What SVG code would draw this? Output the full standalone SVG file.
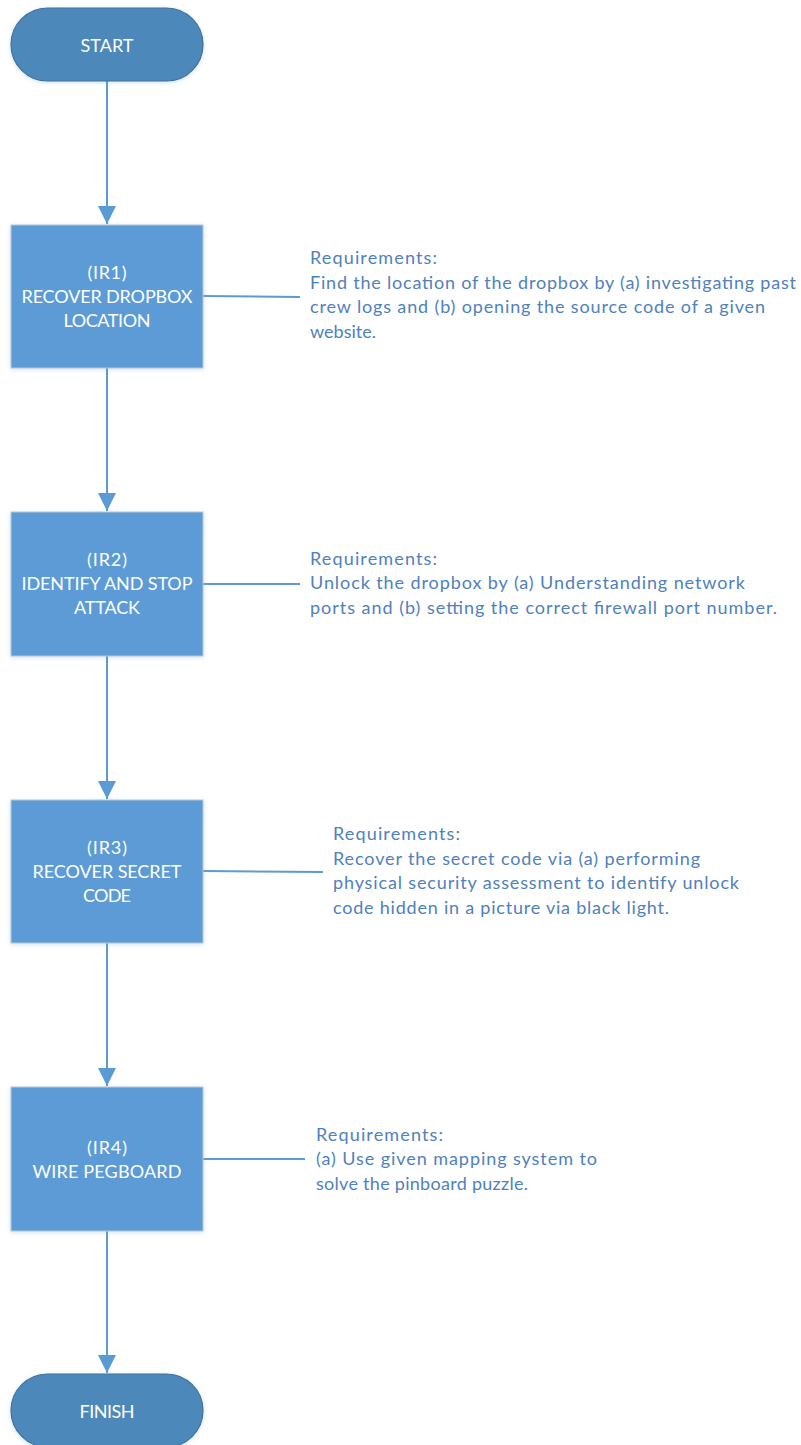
<svg xmlns="http://www.w3.org/2000/svg" width="801" height="1445" viewBox="0 0 801 1445">
  <style>
    .pill { fill: #4E88BB; stroke: #41719C; stroke-width: 1.2; }
    .box { fill: #5B9BD5; stroke: #BCC8D4; stroke-width: 1; }
    .lbl { font-family: Lato, "Liberation Sans", sans-serif; font-size: 18px; fill: #FFFFFF; text-anchor: middle; }
    .req { font-family: Lato, "Liberation Sans", sans-serif; font-size: 18px; fill: #4F81BD; }
    .flow { stroke: #5B9BD5; stroke-width: 2; fill: none; }
  </style>
  <defs>
    <marker id="arrow" markerUnits="userSpaceOnUse" markerWidth="18" markerHeight="18" refX="18" refY="9" orient="auto" viewBox="0 0 18 18">
      <path d="M0,0 L18,9 L0,18 Z" fill="#5B9BD5"/>
    </marker>
    <filter id="glow" x="-20%" y="-20%" width="140%" height="140%">
      <feDropShadow dx="0" dy="1" stdDeviation="2" flood-color="#5B9BD5" flood-opacity="0.3"/>
    </filter>
  </defs>
  <rect width="801" height="1445" fill="#FFFFFF"/>

  <g id="connectors">
    <line class="flow" x1="107" y1="81" x2="107" y2="224" marker-end="url(#arrow)"/>
    <line class="flow" x1="107" y1="368" x2="107" y2="511" marker-end="url(#arrow)"/>
    <line class="flow" x1="107" y1="656" x2="107" y2="799" marker-end="url(#arrow)"/>
    <line class="flow" x1="107" y1="943" x2="107" y2="1086" marker-end="url(#arrow)"/>
    <line class="flow" x1="107" y1="1231" x2="107" y2="1373" marker-end="url(#arrow)"/>
    <line class="flow" x1="203" y1="296" x2="300" y2="297"/>
    <line class="flow" x1="203" y1="584" x2="300" y2="584"/>
    <line class="flow" x1="203" y1="871" x2="323" y2="872"/>
    <line class="flow" x1="203" y1="1159" x2="305" y2="1159"/>
  </g>

  <g id="start">
    <rect class="pill" x="11" y="8" width="192" height="73" rx="36.5" filter="url(#glow)"/>
    <text class="lbl" x="107" y="51.5" textLength="53">START</text>
  </g>

  <g id="ir1">
    <rect class="box" x="11" y="225" width="192" height="143" filter="url(#glow)"/>
    <text class="lbl" x="107" y="278.5" textLength="39">(IR1)</text>
    <text class="lbl" x="107" y="302.5" textLength="171">RECOVER DROPBOX</text>
    <text class="lbl" x="107" y="326.5" textLength="87">LOCATION</text>
  </g>
  <g id="req1">
    <text class="req" x="310" y="264.3" textLength="127">Requirements:</text>
    <text class="req" x="310" y="288.8" textLength="486">Find the location of the dropbox by (a) investigating past</text>
    <text class="req" x="310" y="313.3" textLength="455">crew logs and (b) opening the source code of a given</text>
    <text class="req" x="310" y="337.8" textLength="66">website.</text>
  </g>

  <g id="ir2">
    <rect class="box" x="11" y="512" width="192" height="144" filter="url(#glow)"/>
    <text class="lbl" x="107" y="566" textLength="40">(IR2)</text>
    <text class="lbl" x="107" y="590" textLength="171">IDENTIFY AND STOP</text>
    <text class="lbl" x="107" y="614" textLength="66">ATTACK</text>
  </g>
  <g id="req2">
    <text class="req" x="310" y="564.5" textLength="127">Requirements:</text>
    <text class="req" x="310" y="589" textLength="435">Unlock the dropbox by (a) Understanding network</text>
    <text class="req" x="310" y="613.5" textLength="467">ports and (b) setting the correct firewall port number.</text>
  </g>

  <g id="ir3">
    <rect class="box" x="11" y="800" width="192" height="143" filter="url(#glow)"/>
    <text class="lbl" x="107" y="853.5" textLength="40">(IR3)</text>
    <text class="lbl" x="107" y="877.5" textLength="149">RECOVER SECRET</text>
    <text class="lbl" x="107" y="901.5" textLength="48">CODE</text>
  </g>
  <g id="req3">
    <text class="req" x="333" y="840.3" textLength="127">Requirements:</text>
    <text class="req" x="333" y="864.8" textLength="367">Recover the secret code via (a) performing</text>
    <text class="req" x="333" y="889.3" textLength="406">physical security assessment to identify unlock</text>
    <text class="req" x="333" y="913.8" textLength="336">code hidden in a picture via black light.</text>
  </g>

  <g id="ir4">
    <rect class="box" x="11" y="1087" width="192" height="144" filter="url(#glow)"/>
    <text class="lbl" x="107" y="1153.5" textLength="40">(IR4)</text>
    <text class="lbl" x="107" y="1178" textLength="149">WIRE PEGBOARD</text>
  </g>
  <g id="req4">
    <text class="req" x="316" y="1140.5" textLength="127">Requirements:</text>
    <text class="req" x="316" y="1165" textLength="281">(a) Use given mapping system to</text>
    <text class="req" x="316" y="1189.5" textLength="212">solve the pinboard puzzle.</text>
  </g>

  <g id="finish">
    <rect class="pill" x="11" y="1374" width="192" height="73" rx="36.5" filter="url(#glow)"/>
    <text class="lbl" x="107" y="1417.5" textLength="55">FINISH</text>
  </g>
</svg>
